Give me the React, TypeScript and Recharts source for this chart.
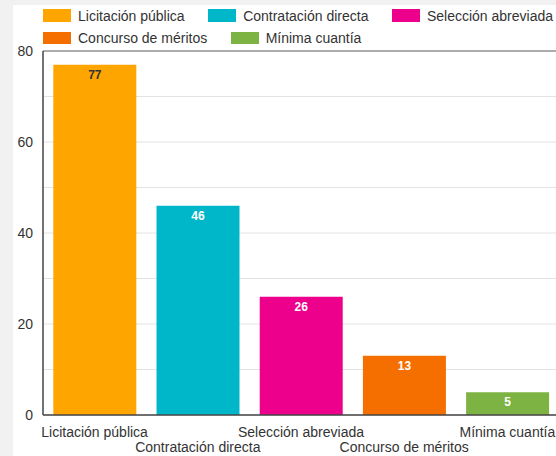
import React from 'react';
import { BarChart, Bar, XAxis, YAxis, CartesianGrid, Cell, LabelList, ReferenceLine } from 'recharts';

// valores
const modalidades = ['Licitación pública', 'Contratación directa', 'Selección abreviada', 'Concurso de méritos', 'Mínima cuantía'];
const cantidades = [77, 46, 26, 13, 5];
const ticksY = [0, 10, 20, 30, 40, 50, 60, 70, 80];

const COLORS = ['#FFA500', '#00B7CA', '#EC008C', '#F56F00', '#7CB342'];
const FONT = '"Liberation Sans", Arial, sans-serif';

const datos = modalidades.map((nombre, i) => ({ nombre, cantidad: cantidades[i] }));

const TickX = (props: any) => {
    const { x, y, payload, index } = props;
    return (
        <text x={x} y={y + (index % 2 === 0 ? 22 : 37)} textAnchor="middle" fontSize={14} fontFamily={FONT} fill="#333">
            {payload.value}
        </text>
    );
};

const Etiqueta = (props: any) => {
    const { x, y, width, value, index } = props;
    return (
        <text x={x + width / 2} y={y + 14} textAnchor="middle" fontSize={12} fontWeight={700} fontFamily={FONT}
            fill={index === 0 ? '#333' : '#fff'}>
            {value}
        </text>
    );
};

// leyenda en dos filas, como la original
const filasLeyenda = [[0, 1, 2], [3, 4]];

export default function App() {
    return (
        <div style={{ position: 'fixed', left: 0, top: 0, width: 556, height: 456, overflow: 'hidden', background: '#f1f1f1', fontFamily: FONT }}>
            <div style={{ position: 'absolute', left: 13, top: 5, right: 0, bottom: 0, background: '#fff' }} />
            <div style={{ position: 'absolute', left: 0, top: 0 }}>
                <BarChart width={560} height={456} data={datos} margin={{ top: 51, right: 1, bottom: 0, left: 0 }} barCategoryGap="10%">
                    <CartesianGrid vertical={false} stroke="#e2e2e2" />
                    <XAxis dataKey="nombre" interval={0} height={41} tickSize={0} tickMargin={0} tick={<TickX />}
                        axisLine={{ stroke: '#444', strokeWidth: 1.5 }} />
                    <YAxis domain={[0, 80]} ticks={ticksY} width={43} tickSize={0} tickMargin={10}
                        tickFormatter={(v: number) => (v % 20 === 0 ? String(v) : '')}
                        tick={{ fontSize: 14, fill: '#333', fontFamily: FONT }}
                        axisLine={{ stroke: '#444', strokeWidth: 1.5 }} />
                    <ReferenceLine y={80} stroke="#666" />
                    <Bar dataKey="cantidad" isAnimationActive={false}>
                        {datos.map((_, i) => (
                            <Cell key={`c-${i}`} fill={COLORS[i]} />
                        ))}
                        <LabelList dataKey="cantidad" content={<Etiqueta />} />
                    </Bar>
                </BarChart>
            </div>
            {filasLeyenda.map((fila, r) => (
                <div key={r} style={{ position: 'absolute', left: 43, top: r === 0 ? 9 : 31, height: 13, display: 'flex', alignItems: 'center', whiteSpace: 'nowrap' }}>
                    {fila.map((i) => (
                        <div key={i} style={{ display: 'flex', alignItems: 'center', marginRight: 23.5 }}>
                            <span style={{ width: 28, height: r === 0 ? 13 : 12, background: COLORS[i], display: 'inline-block', marginRight: 7 }} />
                            <span style={{ fontSize: 14, color: '#333', lineHeight: '14px' }}>{modalidades[i]}</span>
                        </div>
                    ))}
                </div>
            ))}
        </div>
    );
}
